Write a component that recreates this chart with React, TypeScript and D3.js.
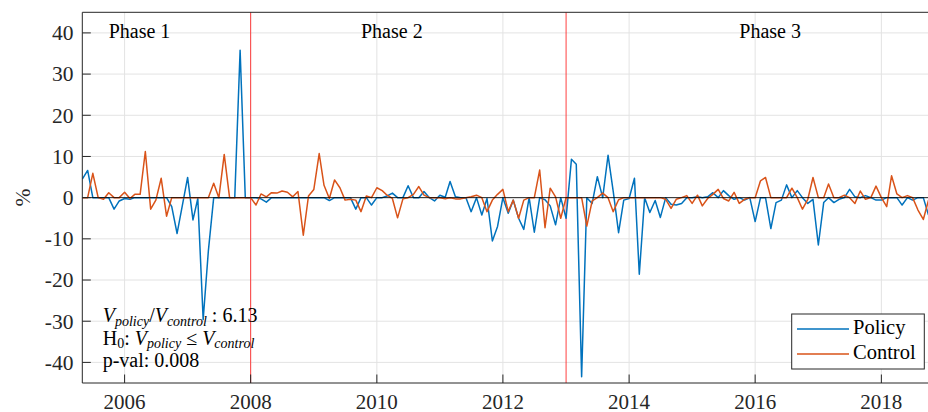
import * as d3 from 'd3';

// monthly observations, May 2005 .. Oct 2018
const startMonth = new Date(2005, 4, 1);
const endMonth = new Date(2018, 9, 1);
const months = d3.timeMonth.range(startMonth, d3.timeMonth.offset(endMonth, 1));

const policy = [
  4.5, 6.6, 0, 0, 0, 0, -2.8, -0.8, -0.2, -0.4, 0, 0,
  0, 0, 0, 0, 0, -2.2, -8.7, -2, 4.9, -5.4, -0.2, -29.6,
  -13, 0, 0, 0, 0, 0, 35.8, 0,
  0, 0, -0.3, -1.1, 0, 0, 0, 0, 0, 0, 0, 0,
  0, 0, 0, -0.7, 0, 0, 0, 0, -2.8, 0, 0, -1.8,
  0, 0, 0.4, 1.1, 0, 0, 2.9, 0, 0, 1.5, 0, -0.8,
  0.6, 0.1, 3.9, 0.2, 0, 0, -3.4, 0, -4.2, -0.2, -10.5, -7,
  0, -3.8, -0.6, -5, -7.7, 0, -8.4, 0, -0.5, -2, -6.6, 0,
  -5, 9.3, 8.1, -43.5, 0, -1.4, 5.1, 0, 10.3, 1.5, -8.5, -0.6,
  -0.2, 4.7, -18.6, 0, -3.6, -0.7, -4.8, 0, -1.6, -1.8, -1.4, 0,
  0, 0.2, 0, 0.2, 1.2, 0, 1.7, 0.5, -0.4, 0, -0.6, 0,
  -5.8, 0, 0, -7.5, -1.2, -0.6, 3.1, 0, 1.7, 0, -1.4, -0.4,
  -11.5, -1.2, 0, -1.2, -0.4, 0, 2, 0.2, 0, 0.5, 0, -0.6,
  -0.6, 0, 0, 0, -1.8, 0, -0.6, 0, 0, -4.2,
];

const control = [
  0, 0, 5.9, 0, -0.4, 1.2, 0, 0, 1.3, -0.2, 0.8, 0.8,
  11.2, -2.8, -0.6, 4.7, -4.5, 0, 0, 0, 0, 0, 0, 0,
  0, 3.5, 0, 10.5, 0, 0, 0, 0,
  0, -1.8, 0.9, 0.2, 1.2, 1.1, 1.6, 1.3, 0.2, 1.5, -9.1, 0.4,
  2.0, 10.7, 3.0, -0.2, 4.3, 2.4, -0.6, -0.4, -0.6, -3.4, 0.4, 0,
  2.4, 1.7, 0.6, -0.2, -4.9, -0.3, 0, 0.8, 2.7, 0.6, 0, 0,
  0, -0.3, 0, -0.3, -0.3, 0, 0.2, 0.6, 0, -3.4, -0.6, 0.8,
  2, -3.4, -0.6, -5, -0.6, 0, 0, 6.7, -7.3, 2.3, 0.2, -5,
  0, 0, 0, 0, -6.9, -0.8, 0, 1.1, 0, -3.4, -0.5, 0,
  0, 0, 0, 0, 0, 0, 0, -0.4, -2.6, -0.4, 0, 0.5,
  -1.4, 0.6, -2, -0.2, 0.8, 2, -0.2, -0.8, 1.3, -1.4, -0.4, 0,
  0, 4.1, 4.9, 0, 0, 0, 0, 2.3, 0, -2.8, -0.4, 4.9,
  0, 0, 3.3, 0, 0, 0.6, 0, -1.4, 1.6, -0.4, 0, 2.8,
  0, -2.2, 5.3, 0.9, 0, 0.5, 0, -3, -5.3, -0.6,
];

const yTicks = [-40, -30, -20, -10, 0, 10, 20, 30, 40];
const xTickYears = [2006, 2008, 2010, 2012, 2014, 2016, 2018];
const phaseBreaks = [new Date(2008, 0, 1), new Date(2013, 0, 1)];
const phaseLabels = ['Phase 1', 'Phase 2', 'Phase 3'];
const phaseLabelDates = [new Date(2005, 9, 1), new Date(2009, 9, 1), new Date(2015, 9, 1)];

const W = 928, H = 412;
const left = 82.3, right = 928.5, top = 12.3, bottom = 383;
const FONT = '"Liberation Serif", "Times New Roman", serif';
const AX = '#262626';

export default function App() {
  const x = d3.scaleTime().domain([startMonth, endMonth]).range([left, right]);
  const y = d3.scaleLinear().domain([-45, 45]).range([bottom, top]);

  const line = d3.line<number>()
    .x((_d, i) => x(months[i]))
    .y(d => y(d));

  const tickLen = 8.5;

  return (
    <div style={{ position: 'absolute', left: 0, top: 0 }}>
      <svg width={W} height={H} style={{ display: 'block', fontFamily: FONT }}>
        <rect width={W} height={H} fill="#fff" />
        <defs>
          <clipPath id="plot">
            <rect x={left} y={top} width={right - left} height={bottom - top} />
          </clipPath>
        </defs>

        {/* grid */}
        {yTicks.map(t => (
          <line key={'gy' + t} x1={left} x2={right} y1={y(t)} y2={y(t)} stroke="#e3e3e3" strokeWidth={1} />
        ))}
        {xTickYears.map(t => (
          <line key={'gx' + t} x1={x(new Date(t, 0, 1))} x2={x(new Date(t, 0, 1))} y1={top} y2={bottom} stroke="#e3e3e3" strokeWidth={1} />
        ))}

        {/* phase separators */}
        {phaseBreaks.map((d, i) => (
          <line key={'pb' + i} x1={x(d)} x2={x(d)} y1={top} y2={bottom} stroke="#ff2020" strokeWidth={1} strokeOpacity={0.85} />
        ))}

        <g clipPath="url(#plot)">
          <path d={line(policy) || ''} fill="none" stroke="#0072BD" strokeWidth={1.5} strokeLinejoin="round" />
          <path d={line(control) || ''} fill="none" stroke="#D95319" strokeWidth={1.5} strokeLinejoin="round" />
          <line x1={left} x2={right} y1={y(0)} y2={y(0)} stroke="#000" strokeWidth={1} strokeOpacity={0.85} />
        </g>

        {/* axes box */}
        <line x1={left} x2={left} y1={top} y2={bottom} stroke={AX} strokeWidth={1} />
        <line x1={left} x2={right} y1={bottom} y2={bottom} stroke={AX} strokeWidth={1} />
        <line x1={left} x2={right} y1={top} y2={top} stroke={AX} strokeWidth={1} />

        {/* y ticks */}
        {yTicks.map(t => (
          <g key={'yt' + t}>
            <line x1={left} x2={left + tickLen} y1={y(t)} y2={y(t)} stroke={AX} strokeWidth={1} />
            <text x={73.5} y={y(t)} dy="0.34em" textAnchor="end" fontSize={21.5} fill={AX}>{String(t)}</text>
          </g>
        ))}

        {/* x ticks */}
        {xTickYears.map(t => {
          const px = x(new Date(t, 0, 1));
          return (
            <g key={'xt' + t}>
              <line x1={px} x2={px} y1={bottom} y2={bottom - tickLen} stroke={AX} strokeWidth={1} />
              <text x={px} y={408.5} textAnchor="middle" fontSize={21} fill={AX}>{t}</text>
            </g>
          );
        })}

        {/* y label */}
        <text transform={`translate(30,${y(0)}) rotate(-90)`} textAnchor="middle" fontSize={21.5} fill={AX}>%</text>

        {/* phase labels */}
        {phaseLabels.map((p, i) => (
          <text key={p} x={x(phaseLabelDates[i])} y={37.5} fontSize={20} fill="#000">{p}</text>
        ))}

        {/* test statistics */}
        <g fontSize={20} fill="#000">
          <text x={102.7} y={322}>
            <tspan fontStyle="italic">V</tspan>
            <tspan fontStyle="italic" fontSize={14} dy={3.5}>policy</tspan>
            <tspan dy={-3.5}>/</tspan>
            <tspan fontStyle="italic">V</tspan>
            <tspan fontStyle="italic" fontSize={14} dy={3.5}>control</tspan>
            <tspan dy={-3.5}>{' : 6.13'}</tspan>
          </text>
          <text x={102.7} y={344.5}>
            <tspan>H</tspan>
            <tspan fontSize={14} dy={3.5}>0</tspan>
            <tspan dy={-3.5}>{': '}</tspan>
            <tspan fontStyle="italic">V</tspan>
            <tspan fontStyle="italic" fontSize={14} dy={3.5}>policy</tspan>
            <tspan dy={-3.5}>{' ≤ '}</tspan>
            <tspan fontStyle="italic">V</tspan>
            <tspan fontStyle="italic" fontSize={14} dy={3.5}>control</tspan>
          </text>
          <text x={102.7} y={367}>p-val: 0.008</text>
        </g>

        {/* legend */}
        <g>
          <rect x={791.7} y={314} width={132.6} height={55} fill="#fff" stroke={AX} strokeWidth={1} />
          <line x1={797} x2={849} y1={329} y2={329} stroke="#0072BD" strokeWidth={1.5} />
          <line x1={797} x2={849} y1={354} y2={354} stroke="#D95319" strokeWidth={1.5} />
          <text x={853} y={333.5} fontSize={20.5} fill="#000">Policy</text>
          <text x={853} y={358.5} fontSize={20.5} fill="#000">Control</text>
        </g>
      </svg>
    </div>
  );
}
